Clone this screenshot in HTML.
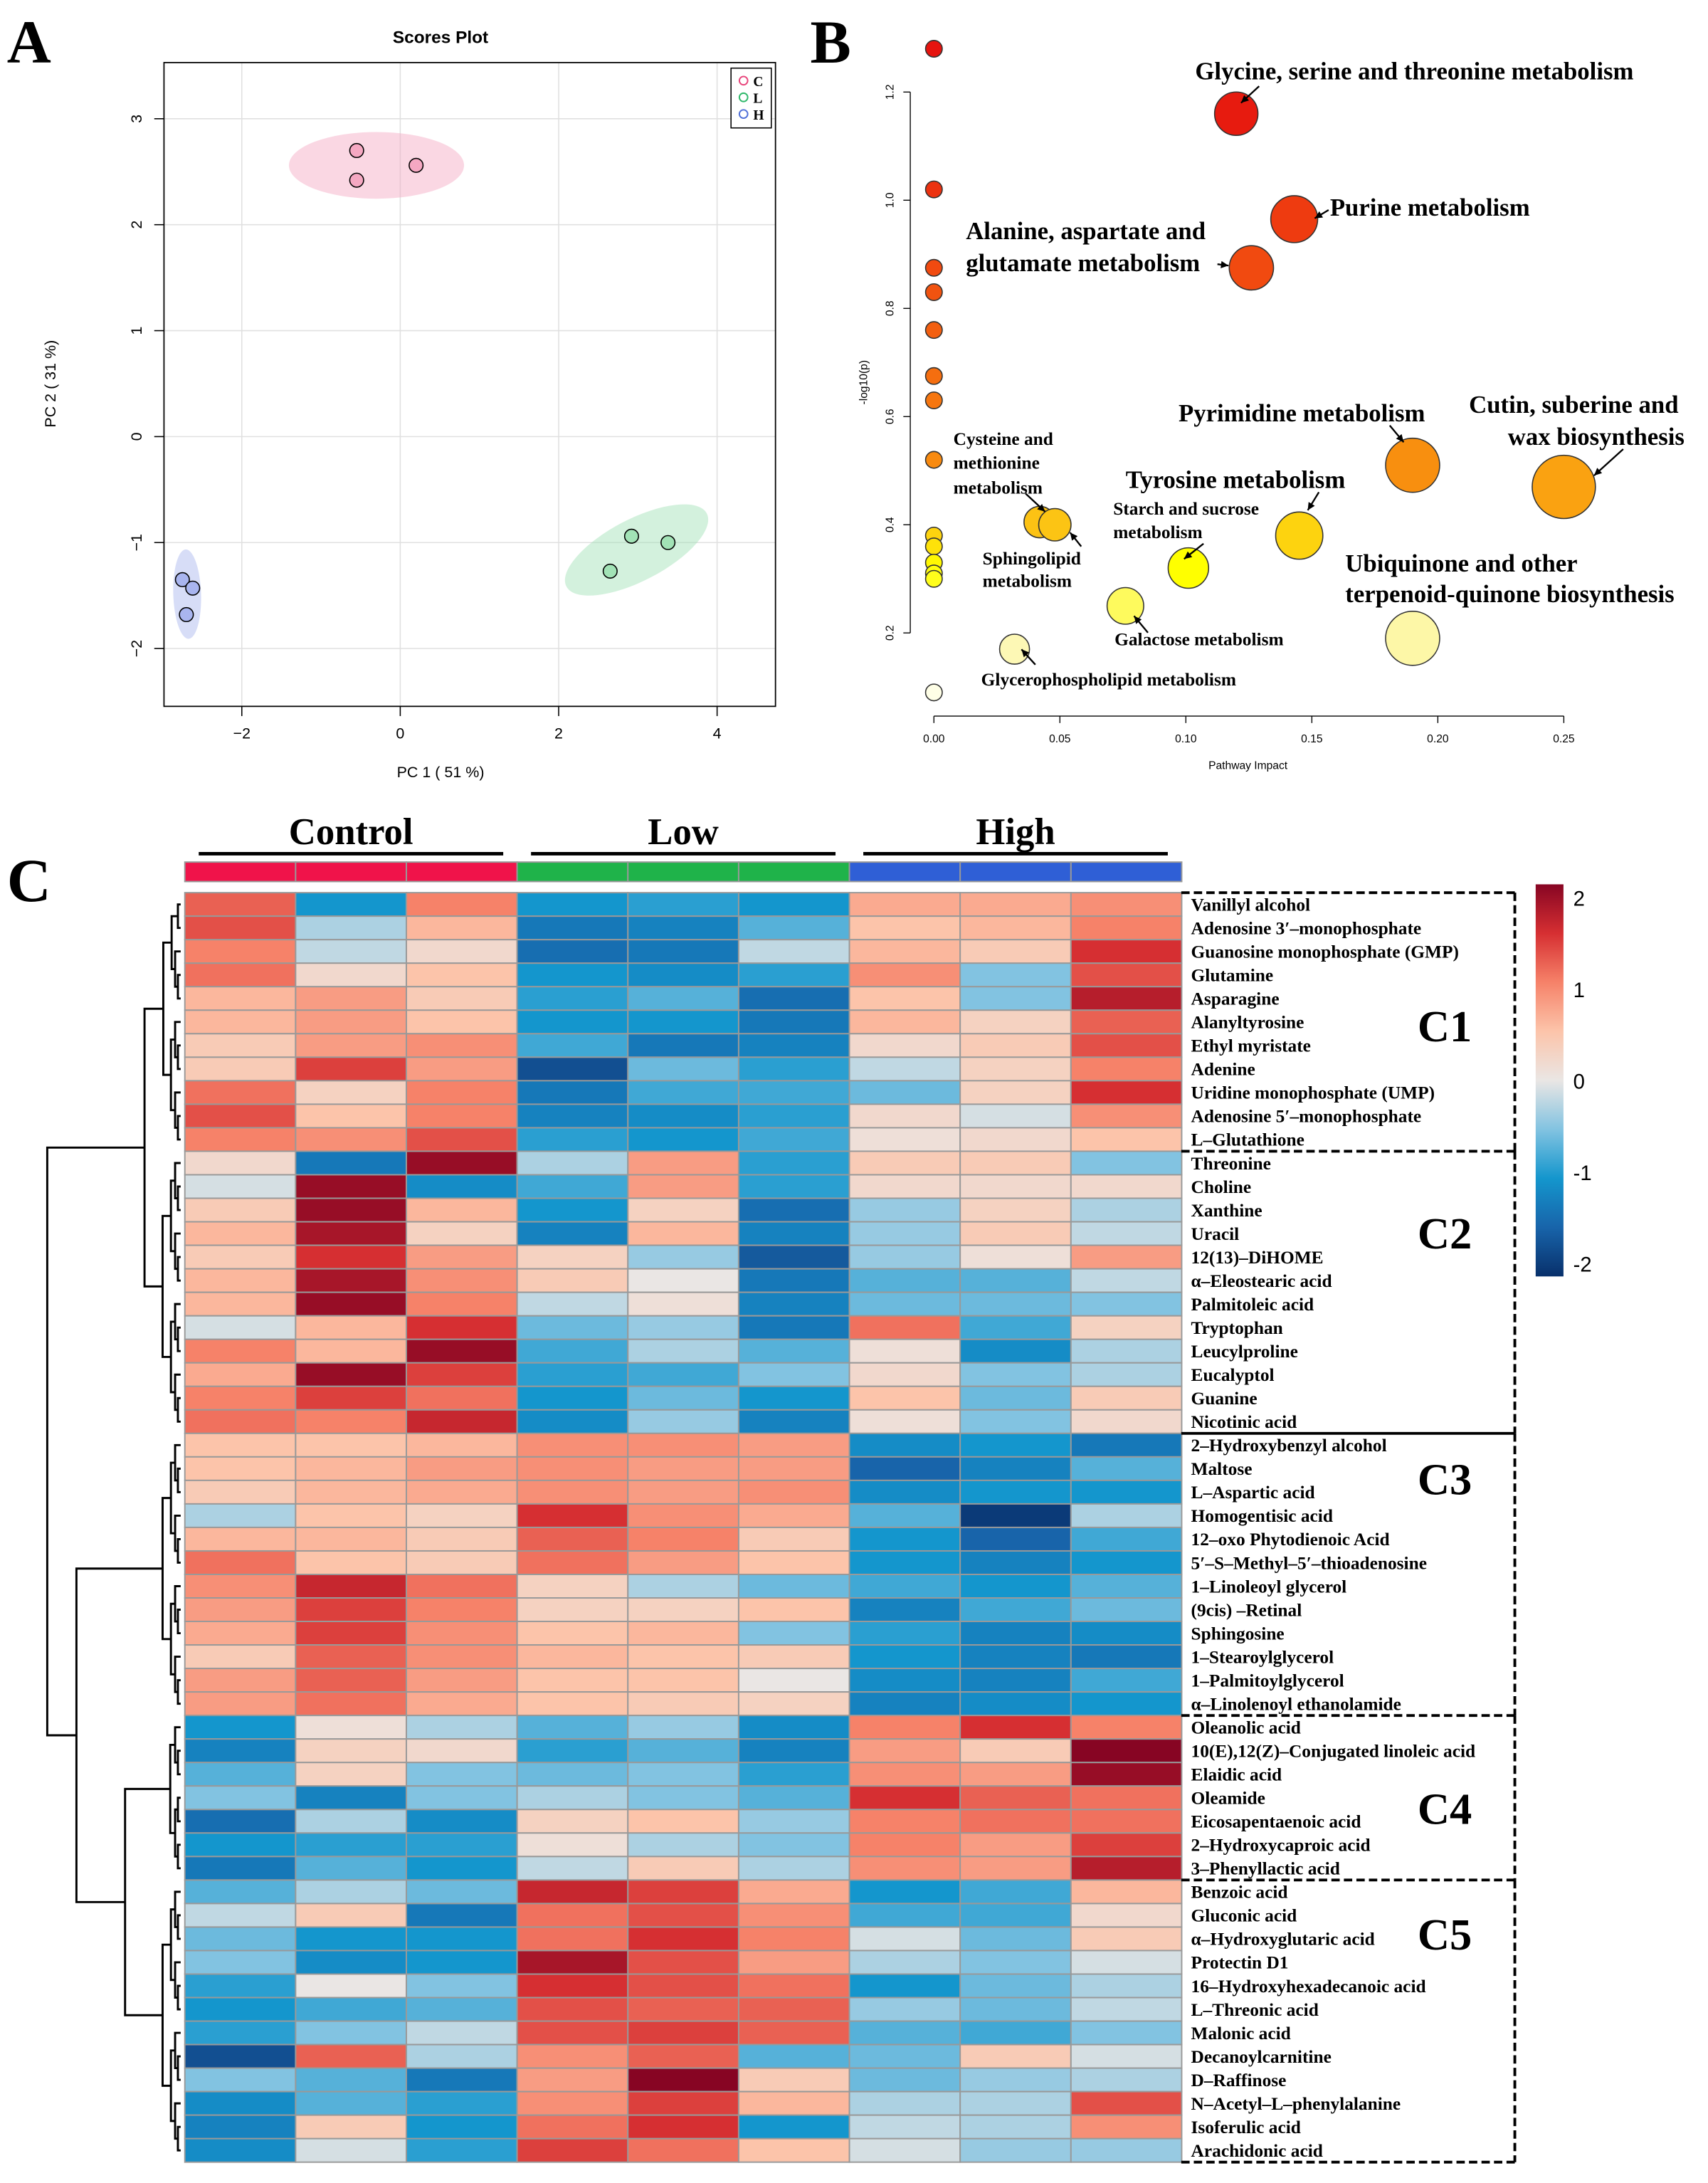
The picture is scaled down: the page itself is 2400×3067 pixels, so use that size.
<!DOCTYPE html>
<html><head><meta charset="utf-8"><style>
html,body{margin:0;padding:0;background:#fff}
svg{display:block}
.serif{font-family:"Liberation Serif",serif;font-weight:bold}
.sans{font-family:"Liberation Sans",sans-serif}
</style></head><body>
<svg id="root" width="2400" height="3067" viewBox="0 0 1229 1570" preserveAspectRatio="none" xmlns="http://www.w3.org/2000/svg">
<rect width="1229" height="1570" fill="#fff"/>
<text x="5" y="45" class="serif" font-size="44">A</text>
<text x="583" y="45" class="serif" font-size="44">B</text>
<text x="5" y="648" class="serif" font-size="44">C</text>
<g id="pa"></g>
<g id="pb"></g>
<g id="pc"></g>
</svg>
<script>
const NS="http://www.w3.org/2000/svg";
function mk(p,t,a,txt){const e=document.createElementNS(NS,t);for(const k in a)e.setAttribute(k,a[k]);if(txt!==undefined)e.textContent=txt;p.appendChild(e);return e;}

// ---------- Panel A data ----------
const aGroups=["C","L","H"];
const aColors=["#f4a6c0","#9ee0b4","#a7b3ee"];
const aFill=["#f5a8c2","#a2e3b6","#a9b5ef"];
const aPC1=[[-0.55,-0.55,0.2],[2.65,2.92,3.38],[-2.75,-2.62,-2.7]];
const aPC2=[[2.7,2.42,2.56],[-1.27,-0.94,-1.0],[-1.35,-1.43,-1.68]];
const aXTicks=[-2,0,2,4];
const aYTicks=[-2,-1,0,1,2,3];

// ---------- Panel B data ----------
const bImpact=[0,0,0,0,0,0,0,0,0,0,0,0,0,0,0.12,0.143,0.126,0.19,0.25,0.042,0.048,0.145,0.101,0.076,0.19,0.032];
const bLogP=[1.28,1.02,0.875,0.83,0.76,0.675,0.63,0.52,0.38,0.36,0.33,0.31,0.3,0.09,1.16,0.965,0.875,0.51,0.47,0.405,0.4,0.38,0.32,0.25,0.19,0.17];
const bXTicks=[0,0.05,0.10,0.15,0.20,0.25];
const bYTicks=[0.2,0.4,0.6,0.8,1.0,1.2];

// ---------- Panel C data ----------
const cGroups=["Control","Low","High"];
const cRows=["Vanillyl alcohol","Adenosine 3′–monophosphate","Guanosine monophosphate (GMP)","Glutamine","Asparagine","Alanyltyrosine","Ethyl myristate","Adenine","Uridine monophosphate (UMP)","Adenosine 5′–monophosphate","L–Glutathione",
"Threonine","Choline","Xanthine","Uracil","12(13)–DiHOME","α–Eleostearic acid","Palmitoleic acid","Tryptophan","Leucylproline","Eucalyptol","Guanine","Nicotinic acid",
"2–Hydroxybenzyl alcohol","Maltose","L–Aspartic acid","Homogentisic acid","12–oxo Phytodienoic Acid","5′–S–Methyl–5′–thioadenosine","1–Linoleoyl glycerol","(9cis) –Retinal","Sphingosine","1–Stearoylglycerol","1–Palmitoylglycerol","α–Linolenoyl ethanolamide",
"Oleanolic acid","10(E),12(Z)–Conjugated linoleic acid","Elaidic acid","Oleamide","Eicosapentaenoic acid","2–Hydroxycaproic acid","3–Phenyllactic acid",
"Benzoic acid","Gluconic acid","α–Hydroxyglutaric acid","Protectin D1","16–Hydroxyhexadecanoic acid","L–Threonic acid","Malonic acid","Decanoylcarnitine","D–Raffinose","N–Acetyl–L–phenylalanine","Isoferulic acid","Arachidonic acid"];
const cValues=[
[1.2,-1.0,1.0,-1.0,-0.9,-1.0,0.7,0.7,0.9],
[1.3,-0.3,0.6,-1.3,-1.2,-0.7,0.5,0.6,1.0],
[1.0,-0.2,0.2,-1.4,-1.3,-0.2,0.6,0.4,1.5],
[1.1,0.2,0.5,-1.0,-1.1,-0.9,0.9,-0.5,1.3],
[0.6,0.8,0.4,-0.9,-0.7,-1.4,0.5,-0.5,1.7],
[0.6,0.8,0.5,-1.0,-1.0,-1.3,0.6,0.3,1.2],
[0.4,0.8,0.9,-0.8,-1.3,-1.2,0.2,0.4,1.3],
[0.4,1.4,0.8,-1.7,-0.6,-0.9,-0.2,0.3,1.0],
[1.1,0.3,1.0,-1.3,-0.8,-0.8,-0.6,0.3,1.5],
[1.3,0.5,1.0,-1.2,-1.1,-0.9,0.2,-0.1,0.9],
[1.0,0.9,1.3,-0.9,-1.0,-0.8,0.1,0.2,0.5],
[0.2,-1.3,1.9,-0.3,0.8,-0.9,0.4,0.4,-0.5],
[-0.1,1.9,-1.1,-0.8,0.8,-0.9,0.2,0.2,0.2],
[0.4,1.9,0.6,-1.0,0.3,-1.4,-0.4,0.3,-0.3],
[0.6,1.8,0.3,-1.2,0.6,-1.2,-0.4,0.4,-0.2],
[0.4,1.5,0.8,0.3,-0.4,-1.6,-0.4,0.1,0.8],
[0.6,1.8,0.9,0.4,0.0,-1.3,-0.7,-0.7,-0.2],
[0.6,1.9,1.0,-0.2,0.1,-1.2,-0.6,-0.6,-0.5],
[-0.1,0.6,1.5,-0.6,-0.4,-1.3,1.1,-0.8,0.3],
[1.0,0.6,1.9,-0.8,-0.3,-0.7,0.1,-1.1,-0.3],
[0.7,1.9,1.4,-0.9,-0.8,-0.5,0.2,-0.5,-0.3],
[1.0,1.4,1.1,-1.0,-0.6,-1.0,0.5,-0.6,0.4],
[1.1,1.0,1.6,-1.1,-0.4,-1.2,0.1,-0.5,0.2],
[0.5,0.5,0.6,0.9,0.9,0.8,-1.1,-1.0,-1.3],
[0.5,0.6,0.8,0.9,0.8,0.8,-1.5,-1.2,-0.7],
[0.4,0.6,0.7,0.9,0.8,0.9,-1.1,-1.0,-1.0],
[-0.3,0.5,0.3,1.5,0.9,0.7,-0.7,-1.9,-0.3],
[0.6,0.6,0.4,1.2,1.0,0.4,-1.0,-1.5,-0.8],
[1.1,0.5,0.4,1.1,0.8,0.5,-1.0,-1.2,-1.0],
[0.9,1.6,1.1,0.3,-0.3,-0.6,-0.8,-1.0,-0.7],
[0.8,1.4,1.0,0.3,0.3,0.5,-1.2,-0.8,-0.6],
[0.7,1.4,0.9,0.5,0.6,-0.5,-0.9,-1.2,-1.1],
[0.4,1.2,0.9,0.6,0.5,0.4,-1.0,-1.2,-1.3],
[0.8,1.2,0.8,0.5,0.5,0.0,-1.1,-1.2,-0.8],
[0.8,1.1,0.7,0.5,0.4,0.3,-1.2,-1.1,-1.0],
[-1.0,0.1,-0.3,-0.7,-0.4,-1.1,1.0,1.5,1.0],
[-1.2,0.3,0.2,-0.9,-0.7,-1.2,0.8,0.4,2.0],
[-0.7,0.3,-0.5,-0.6,-0.5,-0.9,0.9,0.8,1.9],
[-0.5,-1.2,-0.5,-0.3,-0.5,-0.7,1.5,1.2,1.1],
[-1.4,-0.3,-1.1,0.3,0.5,-0.4,1.0,1.1,1.1],
[-1.0,-0.9,-0.9,0.1,-0.3,-0.5,1.0,0.8,1.4],
[-1.3,-0.7,-1.0,-0.2,0.4,-0.3,0.9,0.8,1.7],
[-0.7,-0.3,-0.6,1.6,1.4,0.7,-1.0,-0.8,0.6],
[-0.2,0.4,-1.3,1.1,1.3,0.9,-0.8,-0.8,0.2],
[-0.6,-1.0,-1.0,1.1,1.5,1.0,-0.1,-0.6,0.4],
[-0.5,-1.1,-1.0,1.8,1.3,0.8,-0.3,-0.5,-0.1],
[-0.9,0.0,-0.5,1.5,1.3,1.1,-1.0,-0.6,-0.3],
[-1.0,-0.8,-0.7,1.3,1.2,1.2,-0.4,-0.6,-0.2],
[-0.9,-0.5,-0.2,1.3,1.4,1.2,-0.7,-0.8,-0.5],
[-1.7,1.2,-0.3,0.9,1.2,-0.7,-0.6,0.4,-0.1],
[-0.5,-0.7,-1.3,0.8,2.0,0.4,-0.6,-0.4,-0.3],
[-1.1,-0.7,-0.9,0.9,1.4,0.6,-0.3,-0.3,1.3],
[-1.2,0.4,-1.0,1.1,1.5,-1.0,-0.2,-0.3,0.9],
[-1.1,-0.1,-0.9,1.4,1.1,0.5,-0.1,-0.4,-0.4]];
const cClusters=["C1","C2","C3","C4","C5"];
const cClusterSizes=[11,12,12,7,12];
const cScaleTicks=[2,1,0,-1,-2];

// ================= Panel A =================
(function(){
const g=document.getElementById('pa');
const x=v=>288+v*57, y=v=>314-v*76.2;
mk(g,'text',{x:317,y:31,'text-anchor':'middle','font-size':12.5,'font-weight':'bold',class:'sans'},'Scores Plot');
aXTicks.forEach(t=>{const l=mk(g,'line',{x1:x(t),x2:x(t),y1:45,y2:508,stroke:'#e0e0e0','stroke-width':0.8});});
aYTicks.forEach(t=>{const l=mk(g,'line',{x1:118,x2:558,y1:y(t),y2:y(t),stroke:'#e0e0e0','stroke-width':0.8});});
mk(g,'rect',{x:118,y:45,width:440,height:463,fill:'none',stroke:'#000','stroke-width':0.9});
aXTicks.forEach(t=>{mk(g,'line',{x1:x(t),x2:x(t),y1:508,y2:515,stroke:'#000','stroke-width':0.8});const tx=mk(g,'text',{x:x(t),y:531,'text-anchor':'middle','font-size':11,class:'sans'},String(t).replace('-','−'));});
aYTicks.forEach(t=>{mk(g,'line',{x1:111,x2:118,y1:y(t),y2:y(t),stroke:'#000','stroke-width':0.8});const tx=mk(g,'text',{x:102,y:y(t),'text-anchor':'middle','font-size':11,class:'sans',transform:`rotate(-90 102 ${y(t)})`},String(t).replace('-','−'));});
const xt=mk(g,'text',{x:317,y:559,'text-anchor':'middle','font-size':11,class:'sans'},'PC 1 ( 51 %)');
const yt=mk(g,'text',{x:40,y:276,'text-anchor':'middle','font-size':11,class:'sans',transform:'rotate(-90 40 276)'},'PC 2 ( 31 %)');
aGroups.forEach((gr,i)=>{
 const px=aPC1[i],py=aPC2[i];const mx=px.reduce((a,b)=>a+b)/px.length,my=py.reduce((a,b)=>a+b)/py.length;
 let sxx=0,syy=0,sxy=0;px.forEach((v,k)=>{const dx=(v-mx)*57,dy=-(py[k]-my)*76.2;sxx+=dx*dx;syy+=dy*dy;sxy+=dx*dy;});
 const n=px.length-1;sxx/=n;syy/=n;sxy/=n;
 const tr=sxx+syy,det=sxx*syy-sxy*sxy,l1=tr/2+Math.sqrt(tr*tr/4-det),l2=tr/2-Math.sqrt(tr*tr/4-det);
 const ang=Math.atan2(l1-sxx,sxy||1e-9)*180/Math.PI;
 const k=2.45;
 const rx=i===0?63:Math.max(k*Math.sqrt(l1),10), ry=i===0?24:Math.max(k*Math.sqrt(Math.max(l2,0)),10);
 const e=mk(g,'ellipse',{cx:x(mx),cy:y(my),rx:rx,ry:ry,fill:aColors[i],'fill-opacity':0.45,transform:i===0?'':`rotate(${ang} ${x(mx)} ${y(my)})`});
 
 px.forEach((v,k2)=>{const c=mk(g,'circle',{cx:x(v),cy:y(py[k2]),r:5,fill:aFill[i],stroke:'#000','stroke-width':0.8});});
});
mk(g,'rect',{x:526,y:49,width:29,height:43,fill:'#fff',stroke:'#000','stroke-width':0.8});
const lc=['#e8447a','#2fb86a','#4f6fd8'];
aGroups.forEach((gr,i)=>{const le=mk(g,'g',{});
 mk(le,'circle',{cx:535,cy:58+i*12,r:3,fill:'none',stroke:lc[i],'stroke-width':1});
 mk(le,'text',{x:542,y:62+i*12,'font-size':10,class:'serif'},gr);});
})();

// ================= Panel B =================
(function(){
const g=document.getElementById('pb');
const x=v=>672+v*1813, y=v=>533-v*389;
bXTicks.forEach(t=>{mk(g,'line',{x1:x(t),x2:x(t),y1:515,y2:520,stroke:'#000','stroke-width':0.7});const tx=mk(g,'text',{x:x(t),y:534,'text-anchor':'middle','font-size':8,class:'sans'},t.toFixed(2));});
mk(g,'line',{x1:x(0),x2:x(0.25),y1:515,y2:515,stroke:'#000','stroke-width':0.7});
bYTicks.forEach(t=>{mk(g,'line',{x1:650,x2:655,y1:y(t),y2:y(t),stroke:'#000','stroke-width':0.7});const tx=mk(g,'text',{x:643,y:y(t),'text-anchor':'middle','font-size':8,class:'sans',transform:`rotate(-90 643 ${y(t)})`},t.toFixed(1));});
mk(g,'line',{x1:655,x2:655,y1:y(0.2),y2:y(1.2),stroke:'#000','stroke-width':0.7});
const xt=mk(g,'text',{x:898,y:553,'text-anchor':'middle','font-size':8,class:'sans'},'Pathway Impact');
const yt=mk(g,'text',{x:624,y:275,'text-anchor':'middle','font-size':8,class:'sans',transform:'rotate(-90 624 275)'},'-log10(p)');
function col(p){const s=[[0.1,[254,254,230]],[0.2,[253,246,160]],[0.32,[255,255,0]],[0.4,[252,196,20]],[0.52,[248,138,15]],[0.9,[240,70,16]],[1.2,[230,20,15]]];
 if(p<=s[0][0])return `rgb(${s[0][1]})`;for(let i=1;i<s.length;i++){if(p<=s[i][0]){const f=(p-s[i-1][0])/(s[i][0]-s[i-1][0]);return 'rgb('+s[i][1].map((c,k)=>Math.round(s[i-1][1][k]+f*(c-s[i-1][1][k]))).join(',')+')';}}return 'rgb(230,20,15)';}
bImpact.forEach((v,i)=>{const r=v===0?6:9+v*55;const c=mk(g,'circle',{cx:x(v),cy:y(bLogP[i]),r:r,fill:col(bLogP[i]),stroke:'#333','stroke-width':0.8});});
const labels=[["Glycine, serine and threonine metabolism",860,57,17.8],["Purine metabolism",957,155,17.8],["Alanine, aspartate and",695,172,17.8],["glutamate metabolism",695,195,17.8],["Pyrimidine metabolism",848,303,17.8],["Cutin, suberine and",1057,297,17.8],["wax biosynthesis",1085,320,17.8],["Tyrosine metabolism",810,351,17.8],["Cysteine and",686,320,13],["methionine",686,337,13],["metabolism",686,355,13],["Sphingolipid",707,406,13],["metabolism",707,422,13],["Starch and sucrose",801,370,13],["metabolism",801,387,13],["Ubiquinone and other",968,411,17.8],["terpenoid-quinone biosynthesis",968,433,17.8],["Galactose metabolism",802,464,13],["Glycerophospholipid metabolism",706,493,13]];
labels.forEach(l=>{const t=mk(g,'text',{x:l[1],y:l[2],'font-size':l[3],class:'serif'},l[0]);});
const arrows=[[906,62,893,74],[956,151,946,157],[876,190,884,191],[1000,306,1010,318],[1168,323,1147,342],[949,354,941,367],[738,355,752,368],[778,393,770,383],[866,391,852,402],[826,455,816,443],[745,478,735,467]];
arrows.forEach(a=>{const ang=Math.atan2(a[3]-a[1],a[2]-a[0]);mk(g,'line',{x1:a[0],y1:a[1],x2:a[2],y2:a[3],stroke:'#000','stroke-width':1.2});
 const h=6;mk(g,'polygon',{points:`${a[2]},${a[3]} ${a[2]-h*Math.cos(ang-0.45)},${a[3]-h*Math.sin(ang-0.45)} ${a[2]-h*Math.cos(ang+0.45)},${a[3]-h*Math.sin(ang+0.45)}`,fill:'#000'});});
})();

// ================= Panel C =================
(function(){
const g=document.getElementById('pc');
const X0=133,CW=79.7,Y0=642,RH=(1555-642)/cRows.length;
const stops=[[-2,[8,48,107]],[-1.5,[24,100,170]],[-1,[20,150,205]],[-0.5,[130,195,225]],[0,[234,230,228]],[0.5,[252,196,170]],[1,[246,130,105]],[1.5,[214,47,50]],[2,[135,5,35]]];
function cmap(v){v=Math.max(-2,Math.min(2,v));for(let i=1;i<stops.length;i++){if(v<=stops[i][0]){const f=(v-stops[i-1][0])/0.5;return 'rgb('+stops[i][1].map((c,k)=>Math.round(stops[i-1][1][k]+f*(c-stops[i-1][1][k]))).join(',')+')';}}}
const gc=['#f0134a','#1fb34a','#2f5fd6'];
cGroups.forEach((gr,i)=>{const cx=X0+(i*3+1.5)*CW;
 const t=mk(g,'text',{x:cx,y:607,'text-anchor':'middle','font-size':27,class:'serif'},gr);
 mk(g,'line',{x1:X0+i*3*CW+10,x2:X0+(i+1)*3*CW-10,y1:614,y2:614,stroke:'#000','stroke-width':2.5});
 for(let k=0;k<3;k++){const r=mk(g,'rect',{x:X0+(i*3+k)*CW,y:620,width:CW,height:14,fill:gc[i],stroke:'#999','stroke-width':1});}
});
cValues.forEach((row,ri)=>{row.forEach((v,ci)=>{const r=mk(g,'rect',{x:X0+ci*CW,y:Y0+ri*RH,width:CW,height:RH,fill:cmap(v),stroke:'#999','stroke-width':1});});
 const t=mk(g,'text',{x:857,y:Y0+ri*RH+RH/2+4.5,'font-size':13,class:'serif'},cRows[ri]);});
let start=0;
cClusterSizes.forEach((n,i)=>{const y1=Y0+start*RH,y2=Y0+(start+n)*RH;
 const b=mk(g,'g',{});
 const top=(i===2)?{}:{'stroke-dasharray':'6,3'};
 mk(b,'line',Object.assign({x1:850,x2:1090,y1:y1,y2:y1,stroke:'#000','stroke-width':2},top));
 mk(b,'line',{x1:1090,x2:1090,y1:y1,y2:y2,stroke:'#000','stroke-width':2,'stroke-dasharray':'6,3'});
 if(i===cClusterSizes.length-1)mk(b,'line',{x1:850,x2:1090,y1:y2,y2:y2,stroke:'#000','stroke-width':2,'stroke-dasharray':'6,3'});
 const t=mk(g,'text',{x:1020,y:(i===0?y1+107:i===1?y1+70:i===2?y1+44:i===3?y1+78:y1+50),'font-size':32,class:'serif'},cClusters[i]);
 start+=n;});
const defs=mk(g,'defs',{});const lg=mk(defs,'linearGradient',{id:'cs',x1:0,y1:0,x2:0,y2:1});
stops.slice().reverse().forEach((s,i)=>mk(lg,'stop',{offset:(i/8),'stop-color':'rgb('+s[1].join(',')+')'}));
const cb=mk(g,'rect',{x:1105,y:636,width:20,height:282,fill:'url(#cs)'});
cScaleTicks.forEach(t=>{const yy=777-t*65.8;const tx=mk(g,'text',{x:1132,y:yy+6,'font-size':15,class:'sans'},t<0?'-'+(-t):String(t));});
const dg=mk(g,'g',{stroke:'#000','stroke-width':1.5,fill:'none'});
function sub(a,b,xr){
 if(b-a===1)return [Y0+a*RH+RH/2,130];
 const m=Math.floor((a+b)/2);const l=sub(a,m,xr),r=sub(m,b,xr);
 const h=Math.min(l[1],r[1])-Math.max(2,(b-a)*xr);
 mk(dg,'path',{d:`M${l[1]},${l[0]}H${h}V${r[0]}H${r[1]}`});return [(l[0]+r[0])/2,h];}
let s2=0;const cl=[];cClusterSizes.forEach(n=>{cl.push(sub(s2,s2+n,0.5));s2+=n;});
function join(A,B,h){mk(dg,'path',{d:`M${A[1]},${A[0]}H${h}V${B[0]}H${B[1]}`});return [(A[0]+B[0])/2,h];}
const t12=join(cl[0],cl[1],104);
const t45=join(cl[3],cl[4],90);
const t345=join(cl[2],t45,55);
join(t12,t345,34);
})();
</script>
</body></html>
